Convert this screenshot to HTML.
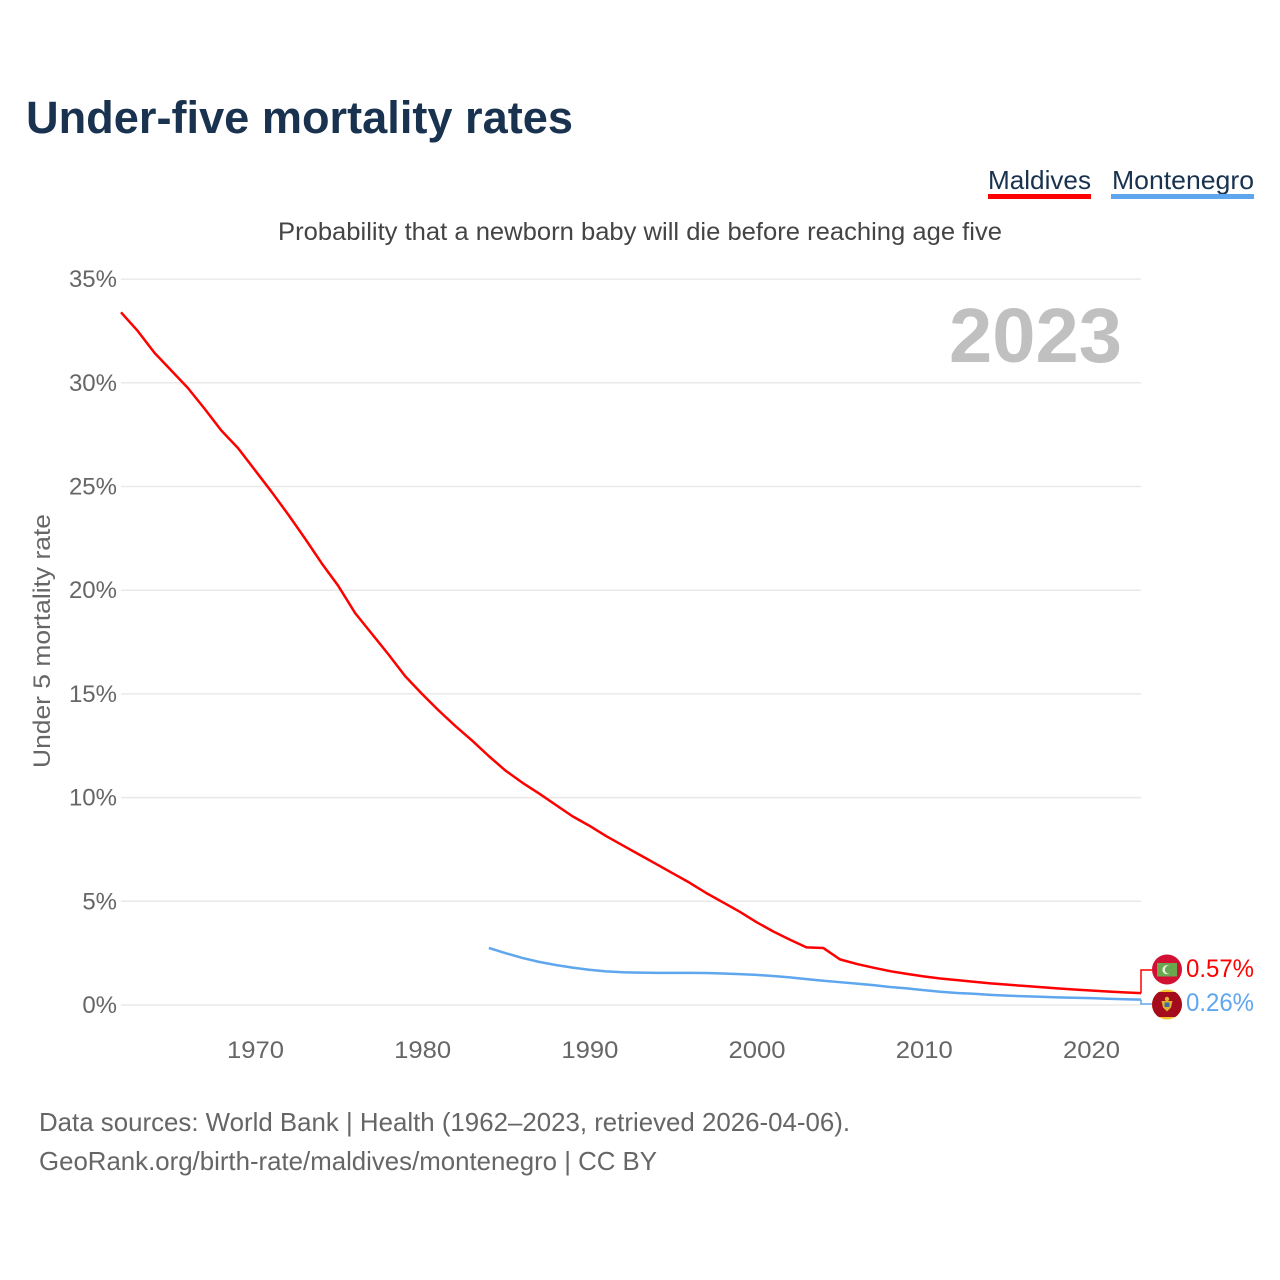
<!DOCTYPE html>
<html>
<head>
<meta charset="utf-8">
<title>Under-five mortality rates</title>
<style>
html,body{margin:0;padding:0;background:#fff;width:1280px;height:1280px;overflow:hidden}
svg{display:block}
text{font-family:"Liberation Sans",sans-serif}
</style>
</head>
<body>
<svg id="chart" width="1280" height="1280" viewBox="0 0 1280 1280" xmlns="http://www.w3.org/2000/svg">
  <defs>
    <clipPath id="me-clip"><circle cx="1167" cy="1004.5" r="15"/></clipPath>
  </defs>
  <rect width="1280" height="1280" fill="#fff"/>
  <text x="26" y="133" font-size="45" font-weight="700" fill="#18324f" textLength="547" lengthAdjust="spacingAndGlyphs">Under-five mortality rates</text>
  <g>
    <text x="988" y="189" font-size="26" fill="#18324f" textLength="103" lengthAdjust="spacingAndGlyphs">Maldives</text>
    <rect x="988" y="194" width="103" height="5" fill="#ff0000"/>
  </g>
  <g>
    <text x="1112" y="189" font-size="26" fill="#18324f" textLength="142" lengthAdjust="spacingAndGlyphs">Montenegro</text>
    <rect x="1111" y="194" width="143" height="5" fill="#5ea6ee"/>
  </g>
  <text x="278" y="240" font-size="25" fill="#444" textLength="724" lengthAdjust="spacingAndGlyphs">Probability that a newborn baby will die before reaching age five</text>
  <g id="grid"></g>
  <g id="yticks"></g>
  <g id="xticks"></g>
  <text transform="translate(50,768) rotate(-90)" font-size="24" fill="#666" textLength="254" lengthAdjust="spacingAndGlyphs">Under 5 mortality rate</text>
  <text x="949" y="362" font-size="77" font-weight="700" fill="#c0c0c0" textLength="173" lengthAdjust="spacingAndGlyphs">2023</text>
  <g id="series"></g>
  <g id="ends"></g>
  <g>
    <circle cx="1167" cy="969.5" r="15" fill="#d21034"/>
    <rect x="1157" y="963" width="20" height="13.5" fill="#6aa84f"/>
    <circle cx="1167" cy="969.7" r="4.6" fill="#e8f0e0"/>
    <circle cx="1169" cy="969.7" r="4.1" fill="#6aa84f"/>
  </g>
  <g clip-path="url(#me-clip)">
    <rect x="1152" y="989" width="30" height="31" fill="#f2c230"/>
    <rect x="1152" y="992" width="30" height="25" fill="#a40b1c"/>
    <path d="M1161.5 1001h11l-1.5 6.5-4 4-4-4z" fill="#e0b030"/>
    <rect x="1164.6" y="1002.5" width="4.8" height="4.5" fill="#3a6ea5"/>
    <circle cx="1167" cy="999" r="2.2" fill="#e0b030"/>
  </g>
  <g>
    <text x="39" y="1131" font-size="26" fill="#666" textLength="811" lengthAdjust="spacingAndGlyphs">Data sources: World Bank | Health (1962–2023, retrieved 2026-04-06).</text>
    <text x="39" y="1170" font-size="26" fill="#666" textLength="618" lengthAdjust="spacingAndGlyphs">GeoRank.org/birth-rate/maldives/montenegro | CC BY</text>
  </g>
</svg>
<script>
const yTickValues = [0, 5, 10, 15, 20, 25, 30, 35];
const yTickLabels = ["0%", "5%", "10%", "15%", "20%", "25%", "30%", "35%"];
const xTickYears = [1970, 1980, 1990, 2000, 2010, 2020];
const maldivesStartYear = 1962;
const maldivesValues = [33.4,32.5,31.45,30.6,29.75,28.75,27.7,26.85,25.8,24.75,23.65,22.5,21.3,20.2,18.9,17.9,16.9,15.85,15.0,14.2,13.45,12.75,12.0,11.3,10.72,10.2,9.65,9.1,8.65,8.15,7.7,7.25,6.8,6.35,5.9,5.4,4.95,4.5,4.0,3.55,3.15,2.78,2.75,2.2,1.98,1.8,1.63,1.5,1.38,1.28,1.2,1.12,1.04,0.98,0.92,0.86,0.8,0.75,0.7,0.65,0.61,0.57];
const montenegroStartYear = 1984;
const montenegroValues = [2.75,2.5,2.27,2.08,1.93,1.8,1.7,1.62,1.58,1.56,1.55,1.55,1.55,1.54,1.52,1.49,1.45,1.4,1.33,1.25,1.17,1.1,1.03,0.96,0.87,0.8,0.72,0.64,0.58,0.54,0.49,0.45,0.42,0.4,0.37,0.35,0.33,0.3,0.28,0.26];

const NS = "http://www.w3.org/2000/svg";
function xScale(year) { return 121 + (year - 1962) * 16.72; }
function yScale(value) { return 1005 - value * 20.74; }
function make(tag, attrs, parent, content) {
  const el = document.createElementNS(NS, tag);
  for (const k in attrs) el.setAttribute(k, attrs[k]);
  if (content !== undefined) el.textContent = content;
  parent.appendChild(el);
  return el;
}
const grid = document.getElementById("grid");
const yticks = document.getElementById("yticks");
const xticks = document.getElementById("xticks");
const series = document.getElementById("series");
const ends = document.getElementById("ends");

yTickValues.forEach(function (v, i) {
  const line = make("line", {x1: 121, x2: 1141, y1: yScale(v), y2: yScale(v), stroke: "#e9e9e9", "stroke-width": 1.5}, grid);
  
  
  const label = make("text", {x: 117, y: yScale(v) + 8, "text-anchor": "end", "font-size": 24, fill: "#666"}, yticks, yTickLabels[i]);
  
  
});
xTickYears.forEach(function (yr) {
  const label = make("text", {x: xScale(yr) + 0.7, y: 1058, "text-anchor": "middle", "font-size": 24, fill: "#666", textLength: 57, lengthAdjust: "spacingAndGlyphs"}, xticks, String(yr));
  
  
});
function linePoints(start, values) {
  return values.map(function (v, i) { return xScale(start + i).toFixed(2) + "," + yScale(v).toFixed(2); }).join(" ");
}
const blueLine = make("polyline", {points: linePoints(montenegroStartYear, montenegroValues), fill: "none", stroke: "#5ea6ee", "stroke-width": 2.5, "stroke-linejoin": "round"}, series);


const redLine = make("polyline", {points: linePoints(maldivesStartYear, maldivesValues), fill: "none", stroke: "#ff0000", "stroke-width": 2.5, "stroke-linejoin": "round"}, series);



const lastRed = maldivesValues[maldivesValues.length - 1];
const lastBlue = montenegroValues[montenegroValues.length - 1];
const redConn = make("polyline", {points: "1141," + yScale(lastRed).toFixed(1) + " 1141,970 1152,970", fill: "none", stroke: "#ff0000", "stroke-width": 1.5}, ends);


const blueConn = make("polyline", {points: "1141," + yScale(lastBlue).toFixed(1) + " 1141,1004 1152,1004", fill: "none", stroke: "#5ea6ee", "stroke-width": 1.5}, ends);


const redLabel = make("text", {x: 1186, y: 977, "font-size": 25, fill: "#ff0000", textLength: 68, lengthAdjust: "spacingAndGlyphs"}, ends, lastRed.toFixed(2) + "%");


const blueLabel = make("text", {x: 1186, y: 1011, "font-size": 25, fill: "#5ea6ee", textLength: 68, lengthAdjust: "spacingAndGlyphs"}, ends, lastBlue.toFixed(2) + "%");


</script>
</body>
</html>
